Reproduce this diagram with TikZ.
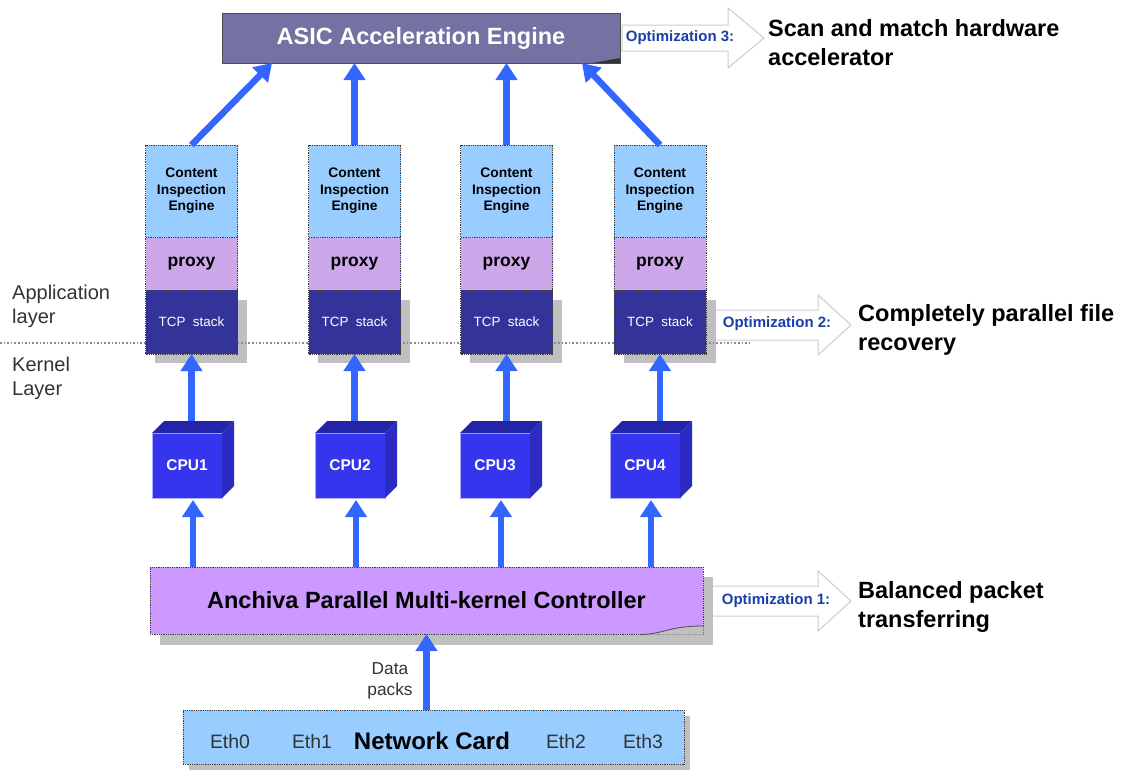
\documentclass[tikz,border=0pt]{standalone}
\usepackage{fontspec}
\setmainfont{Liberation Sans}
\usetikzlibrary{arrows.meta,calc}
\definecolor{asicc}{HTML}{7472A2}
\definecolor{ciec}{HTML}{99CCFF}
\definecolor{proxyc}{HTML}{CCA8EA}
\definecolor{tcpc}{HTML}{333399}
\definecolor{ctrlc}{HTML}{CC99FF}
\definecolor{arrowc}{HTML}{3366FF}
\definecolor{shadowc}{HTML}{C0C0C0}
\definecolor{cpufront}{HTML}{3535EE}
\definecolor{cputopc}{HTML}{2424A8}
\definecolor{cpusidec}{HTML}{2B2BC4}
\definecolor{optc}{HTML}{1A3FA8}
\definecolor{labelc}{HTML}{333333}
\tikzset{
  barrow/.style={line width=6.5pt, draw=arrowc, -{Triangle[width=21pt,length=17pt]}},
  stackbox/.style={draw=black!75, densely dotted, line width=0.8pt, minimum width=92pt, inner sep=0pt, outer sep=0pt, align=center},
  ciebox/.style={stackbox, fill=ciec, minimum height=92pt, font=\fontsize{13.8}{16.5}\selectfont\bfseries},
  proxybox/.style={stackbox, fill=proxyc, minimum height=53pt, font=\fontsize{17.5}{20}\selectfont\bfseries},
  tcpbox/.style={stackbox, fill=tcpc, minimum height=64pt, text=white, font=\fontsize{13.4}{15}\selectfont},
  cpubox/.style={fill=cpufront, draw=white!60!cpufront, line width=1pt, minimum width=70pt, minimum height=65pt, inner sep=0pt, outer sep=0pt, text=white, font=\fontsize{15.5}{18}\selectfont\bfseries},
  bigarrow/.style={draw=black!20, fill=white, line width=1pt},
  opttext/.style={text=optc, font=\fontsize{15}{18}\selectfont\bfseries},
  righttext/.style={anchor=west, align=left, font=\fontsize{23.5}{29}\selectfont\bfseries, inner sep=0pt},
  sidelabel/.style={anchor=north west, align=left, text=labelc, font=\fontsize{20}{24}\selectfont, inner sep=0pt},
  ethlabel/.style={text=labelc, font=\fontsize{19.4}{22}\selectfont, inner sep=0pt}
}
\begin{document}
\begin{tikzpicture}[x=1pt,y=-1pt]
\useasboundingbox (0,0) rectangle (1126,771);

% ASIC
\node[fill=asicc, draw=black!70, line width=0.8pt, minimum width=398pt, minimum height=50pt, inner sep=0pt, outer sep=0pt, text=white, font=\fontsize{23.5}{26}\selectfont\bfseries] (asic) at (421,38) {ASIC Acceleration Engine};
\fill[black!80] (593,63) -- (620,58) -- (620,63) -- cycle;

% block arrow 3
\draw[bigarrow] (622,25) -- (728,25) -- (728,8) -- (764,38) -- (728,68) -- (728,51) -- (622,51) -- cycle;
\node[opttext] (opt3) at (680,38) {Optimization 3:};
\node[righttext] (txt3) at (768,43) {Scan and match hardware\\accelerator};

% block arrow 2
\draw[bigarrow] (712,310) -- (818,310) -- (818,295) -- (851,325) -- (818,355) -- (818,340) -- (712,340) -- cycle;
\node[opttext] (opt2) at (777,324) {Optimization 2:};
\node[righttext] (txt2) at (858,330) {Completely parallel file\\recovery};

% block arrow 1
\draw[bigarrow] (706,586) -- (818,586) -- (818,571) -- (851,601) -- (818,631) -- (818,616) -- (706,616) -- cycle;
\node[opttext] (opt1) at (776,601) {Optimization 1:};
\node[righttext] (txt1) at (858,607) {Balanced packet\\transferring};

% shadows of TCP stacks
\foreach \x in {191,354,506,660}{
  \fill[shadowc] (\x-36,300) rectangle (\x+56,363);
}
% layer separator
\draw[black!45, dotted, line width=1.6pt] (0,343) -- (752,343);
\node[sidelabel] (applbl) at (12,285) {Application\\layer};
\node[sidelabel] (kerlbl) at (12,357) {Kernel\\Layer};

% stacks
\foreach \i/\x in {1/191.5,2/354.5,3/506.5,4/660}{
  \node[ciebox] (ci\i) at (\x,191) {Content\\Inspection\\Engine};
  \node[proxybox] (px\i) at (\x,263.5) {proxy};
  \node[tcpbox] (tcp\i) at (\x,322) {TCP\ \ stack};
}

% arrows stacks -> ASIC
\coordinate (a1) at ([xshift=50pt]asic.south west);
\coordinate (a4) at ([xshift=-38pt]asic.south east);
\draw[barrow] (ci1.north) -- (a1);
\draw[barrow] (ci2.north) -- (ci2.north |- asic.south);
\draw[barrow] (ci3.north) -- (ci3.north |- asic.south);
\draw[barrow] (ci4.north) -- (a4);

% controller
\fill[shadowc] (160,577) rectangle (713,645);
\node[fill=ctrlc, draw=black!75, densely dotted, line width=0.8pt, minimum width=553pt, minimum height=67pt, inner sep=0pt, outer sep=0pt, font=\fontsize{23.5}{26}\selectfont\bfseries] (ctrl) at (426.5,600.5) {Anchiva Parallel Multi-kernel Controller};
\fill[shadowc] (640,634.6) .. controls (665,634) and (668,626) .. (703.4,626) -- (703.4,634.6) -- cycle;
\draw[black!70, line width=0.8pt] (640,634.6) .. controls (665,634) and (668,626) .. (703.4,626);

% CPUs
\foreach \i/\x in {1/187,2/350,3/495,4/645}{
  \node[cpubox] (cpu\i) at (\x,465.5) {CPU\i};
  \fill[cputopc] (cpu\i.north west) -- ++(12,-12) -- ++(70,0) -- (cpu\i.north east) -- cycle;
  \fill[cpusidec] (cpu\i.north east) -- ++(12,-12) -- ++(0,65) -- (cpu\i.south east) -- cycle;
  \coordinate (ct\i) at ($(cpu\i.north)+(6,-12)$);
  \coordinate (cb\i) at ($(cpu\i.south)+(6,2)$);
  \draw[barrow] (tcp\i.south |- ct\i) -- (tcp\i.south);
  \draw[barrow] (cb\i |- ctrl.north) -- (cb\i);
}

% network card
\fill[shadowc] (189,716) rectangle (690,770);
\node[fill=ciec, draw=black!75, densely dotted, line width=0.8pt, minimum width=501pt, minimum height=54pt, inner sep=0pt, outer sep=0pt] (net) at (433.5,737) {};
\node[font=\fontsize{24}{26}\selectfont\bfseries, inner sep=0pt] (nclbl) at (432,741) {Network Card};
\node[ethlabel] (eth0) at (230,742) {Eth0};
\node[ethlabel] (eth1) at (312,742) {Eth1};
\node[ethlabel] (eth2) at (566,742) {Eth2};
\node[ethlabel] (eth3) at (643,742) {Eth3};

\draw[barrow] (ctrl.south |- net.north) -- (ctrl.south);
\node[align=center, text=labelc, font=\fontsize{17.3}{21}\selectfont, inner sep=0pt] (dp) at (390,681) {Data\\packs};
\end{tikzpicture}
\end{document}
